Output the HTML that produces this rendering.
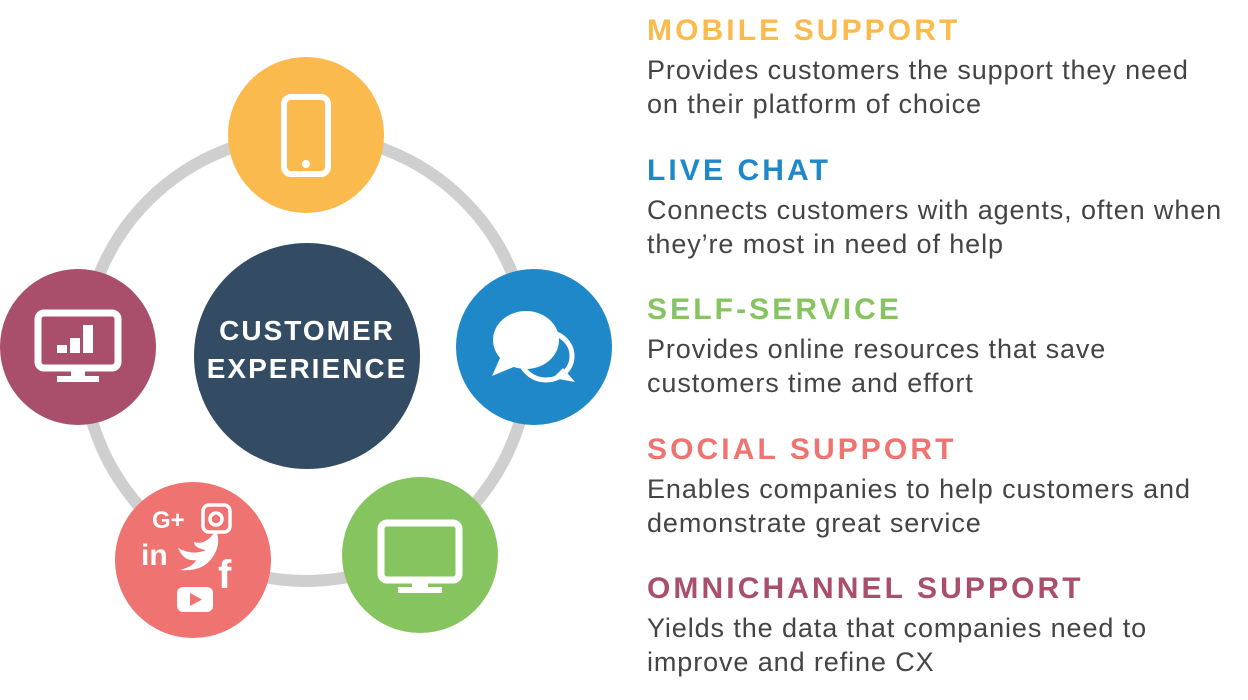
<!DOCTYPE html>
<html><head><style>
body{margin:0;width:1248px;height:700px;background:#fff;position:relative;overflow:hidden;font-family:"Liberation Sans",sans-serif}
.t{position:absolute;left:647px;font-weight:bold;font-size:30px;letter-spacing:3.1px;line-height:34px}
.d{position:absolute;left:647px;font-size:27px;letter-spacing:0.9px;color:#444;line-height:34px}
</style></head><body>
<svg width="640" height="700" style="position:absolute;left:0;top:0">
<circle cx="306" cy="358" r="223" fill="none" stroke="#cfcfcf" stroke-width="12"/>
<circle cx="306" cy="135" r="78" fill="#FBBA4E"/>
<rect x="284" y="97" width="44" height="77" rx="7" fill="none" stroke="#fff" stroke-width="6"/>
<circle cx="306" cy="164" r="4" fill="#fff"/>
<circle cx="534" cy="347" r="78" fill="#1E88C8"/>
<ellipse cx="526" cy="340" rx="33" ry="29" fill="#fff"/>
<path d="M500 358 L492 376 L516 366Z" fill="#fff"/>
<ellipse cx="546" cy="356" rx="26" ry="24" fill="none" stroke="#fff" stroke-width="5"/>
<path d="M563 368 L575 382 L553 378Z" fill="#fff"/>
<circle cx="420" cy="555" r="78" fill="#86C45F"/>
<rect x="381" y="523" width="78" height="57" rx="6" fill="none" stroke="#fff" stroke-width="7"/>
<rect x="412" y="580" width="16" height="8" fill="#fff"/><rect x="398" y="587" width="44" height="6" fill="#fff"/>
<circle cx="193" cy="560" r="78" fill="#EF7370"/>
<text x="152" y="528" fill="#fff" font-size="24" font-weight="bold" font-family="Liberation Sans">G+</text>
<rect x="203" y="505" width="27" height="27" rx="6" fill="none" stroke="#fff" stroke-width="3.5"/>
<circle cx="216" cy="519" r="6" fill="none" stroke="#fff" stroke-width="3.5"/>
<text x="141" y="565" fill="#fff" font-size="30" font-weight="bold" font-family="Liberation Sans">in</text>
<path d="M178 548 q15 8 28 2 q-12 -2 -12 -8 q12 4 22 -12 q6 14 -4 28 q-10 14 -32 12 q14 -4 16 -10 q-12 2 -18 -12Z" fill="#fff"/>
<text x="218" y="588" fill="#fff" font-size="40" font-weight="bold" font-family="Liberation Sans">f</text>
<rect x="177" y="587" width="36" height="25" rx="6" fill="#fff"/>
<path d="M190 593 L202 599.5 L190 606Z" fill="#EF7370"/>
<circle cx="78" cy="347" r="78" fill="#A94F6C"/>
<rect x="38" y="313" width="80" height="55" rx="6" fill="none" stroke="#fff" stroke-width="7"/>
<rect x="57" y="345" width="10" height="8" fill="#fff"/><rect x="70" y="338" width="10" height="15" fill="#fff"/><rect x="83" y="325" width="10" height="28" fill="#fff"/>
<rect x="71" y="368" width="14" height="8" fill="#fff"/><rect x="57" y="376" width="42" height="6" fill="#fff"/>
<circle cx="307" cy="356" r="113" fill="#344B64"/>
<text x="307" y="340" fill="#fff" font-size="28" font-weight="bold" text-anchor="middle" letter-spacing="2" font-family="Liberation Sans">CUSTOMER</text>
<text x="307" y="378" fill="#fff" font-size="28" font-weight="bold" text-anchor="middle" letter-spacing="2" font-family="Liberation Sans">EXPERIENCE</text>
</svg>
<div class="t" style="top:14px;color:#FBBA4E">MOBILE SUPPORT</div>
<div class="d" style="top:53px">Provides customers the support they need<br>on their platform of choice</div>
<div class="t" style="top:154px;color:#1E88C8">LIVE CHAT</div>
<div class="d" style="top:193px">Connects customers with agents, often when<br>they’re most in need of help</div>
<div class="t" style="top:293px;color:#86C45F">SELF-SERVICE</div>
<div class="d" style="top:332px">Provides online resources that save<br>customers time and effort</div>
<div class="t" style="top:433px;color:#EF7370">SOCIAL SUPPORT</div>
<div class="d" style="top:472px">Enables companies to help customers and<br>demonstrate great service</div>
<div class="t" style="top:572px;color:#A94F6C">OMNICHANNEL SUPPORT</div>
<div class="d" style="top:611px">Yields the data that companies need to<br>improve and refine CX</div>
</body></html>
